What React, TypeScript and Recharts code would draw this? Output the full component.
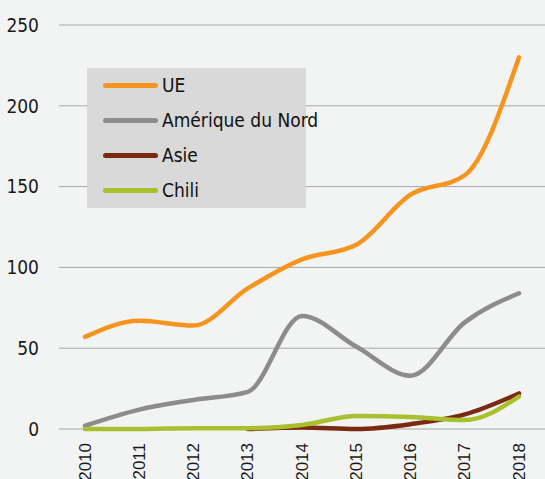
import { CartesianGrid, Legend, Line, LineChart, XAxis, YAxis } from 'recharts';

const years = ['2010', '2011', '2012', '2013', '2014', '2015', '2016', '2017', '2018'];
const ue = [57, 67, 64, 87, 105, 114, 145, 157, 230];
const ameriqueNord = [2, 12, 18, 23, 70, 51, 33, 66, 84];
const asie = [null, null, null, 0, 1, 0, 3, 9, 22];
const chili = [0, 0, 0.5, 0.5, 2.5, 8, 7.5, 5.5, 20];
const yTicks = [0, 50, 100, 150, 200, 250];

const series = [
  { key: 'ue', name: 'UE', color: '#f7941d' },
  { key: 'amn', name: 'Amérique du Nord', color: '#8c8c8c' },
  { key: 'asie', name: 'Asie', color: '#7b2a12' },
  { key: 'chili', name: 'Chili', color: '#a8bf2e' },
];

const data = years.map((year, i) => ({
  year,
  ue: ue[i],
  amn: ameriqueNord[i],
  asie: asie[i],
  chili: chili[i],
}));

const narrow = "'DejaVu Sans Condensed', 'Liberation Sans Narrow', 'DejaVu Sans', sans-serif";

function YearTick({ x, y, payload }: any) {
  const ty = y + 6;
  return (
    <text
      x={x}
      y={ty}
      transform={`rotate(-90, ${x}, ${ty})`}
      textAnchor='end'
      dominantBaseline='central'
      fill='#1a1a1a'
      fontSize={17}
      fontFamily="'Liberation Sans', Arial, sans-serif"
    >
      {payload.value}
    </text>
  );
}

function LegendBox() {
  return (
    <div style={{ width: 219, height: 140, background: '#d9d9d9', position: 'relative' }}>
      {series.map((s, i) => (
        <div
          key={s.key}
          style={{
            position: 'absolute',
            left: 16,
            top: 17 + i * 35 - 13,
            height: 26,
            display: 'flex',
            alignItems: 'center',
            whiteSpace: 'nowrap',
          }}
        >
          <div
            style={{
              width: 55,
              height: 5,
              borderRadius: 3,
              background: s.color,
              marginRight: 4,
            }}
          />
          <span
            style={{ fontFamily: narrow, fontStretch: 'condensed', fontSize: 19, color: '#111' }}
          >
            {s.name}
          </span>
        </div>
      ))}
    </div>
  );
}

export default function App() {
  return (
    <div style={{ width: 545, height: 479, background: '#f2f4f3' }}>
      <style>{`body{margin:0;background:#f2f4f3}`}</style>
      <LineChart
        width={545}
        height={479}
        data={data}
        margin={{ top: 25, right: 0, bottom: 0, left: 0 }}
      >
        <CartesianGrid vertical={false} stroke='#a6a6a6' strokeWidth={1} />
        <XAxis
          dataKey='year'
          axisLine={false}
          tickLine={false}
          height={50}
          interval={0}
          padding={{ left: 26, right: 26 }}
          tick={<YearTick />}
        />
        <YAxis
          domain={[0, 250]}
          ticks={yTicks}
          width={59}
          axisLine={false}
          tickLine={false}
          tickMargin={14}
          tick={{ fill: '#1a1a1a', fontSize: 19, fontFamily: narrow, style: { fontStretch: 'condensed' } }}
        />
        <Legend
          layout='horizontal'
          verticalAlign='middle'
          align='center'
          content={() => <LegendBox />}
          wrapperStyle={{ left: 87, top: 68, width: 219, height: 140 }}
        />
        {series.map(s => (
          <Line
            key={s.key}
            type='monotone'
            dataKey={s.key}
            name={s.name}
            stroke={s.color}
            strokeWidth={4.5}
            strokeLinecap='round'
            dot={false}
            activeDot={false}
            isAnimationActive={false}
          />
        ))}
      </LineChart>
    </div>
  );
}
